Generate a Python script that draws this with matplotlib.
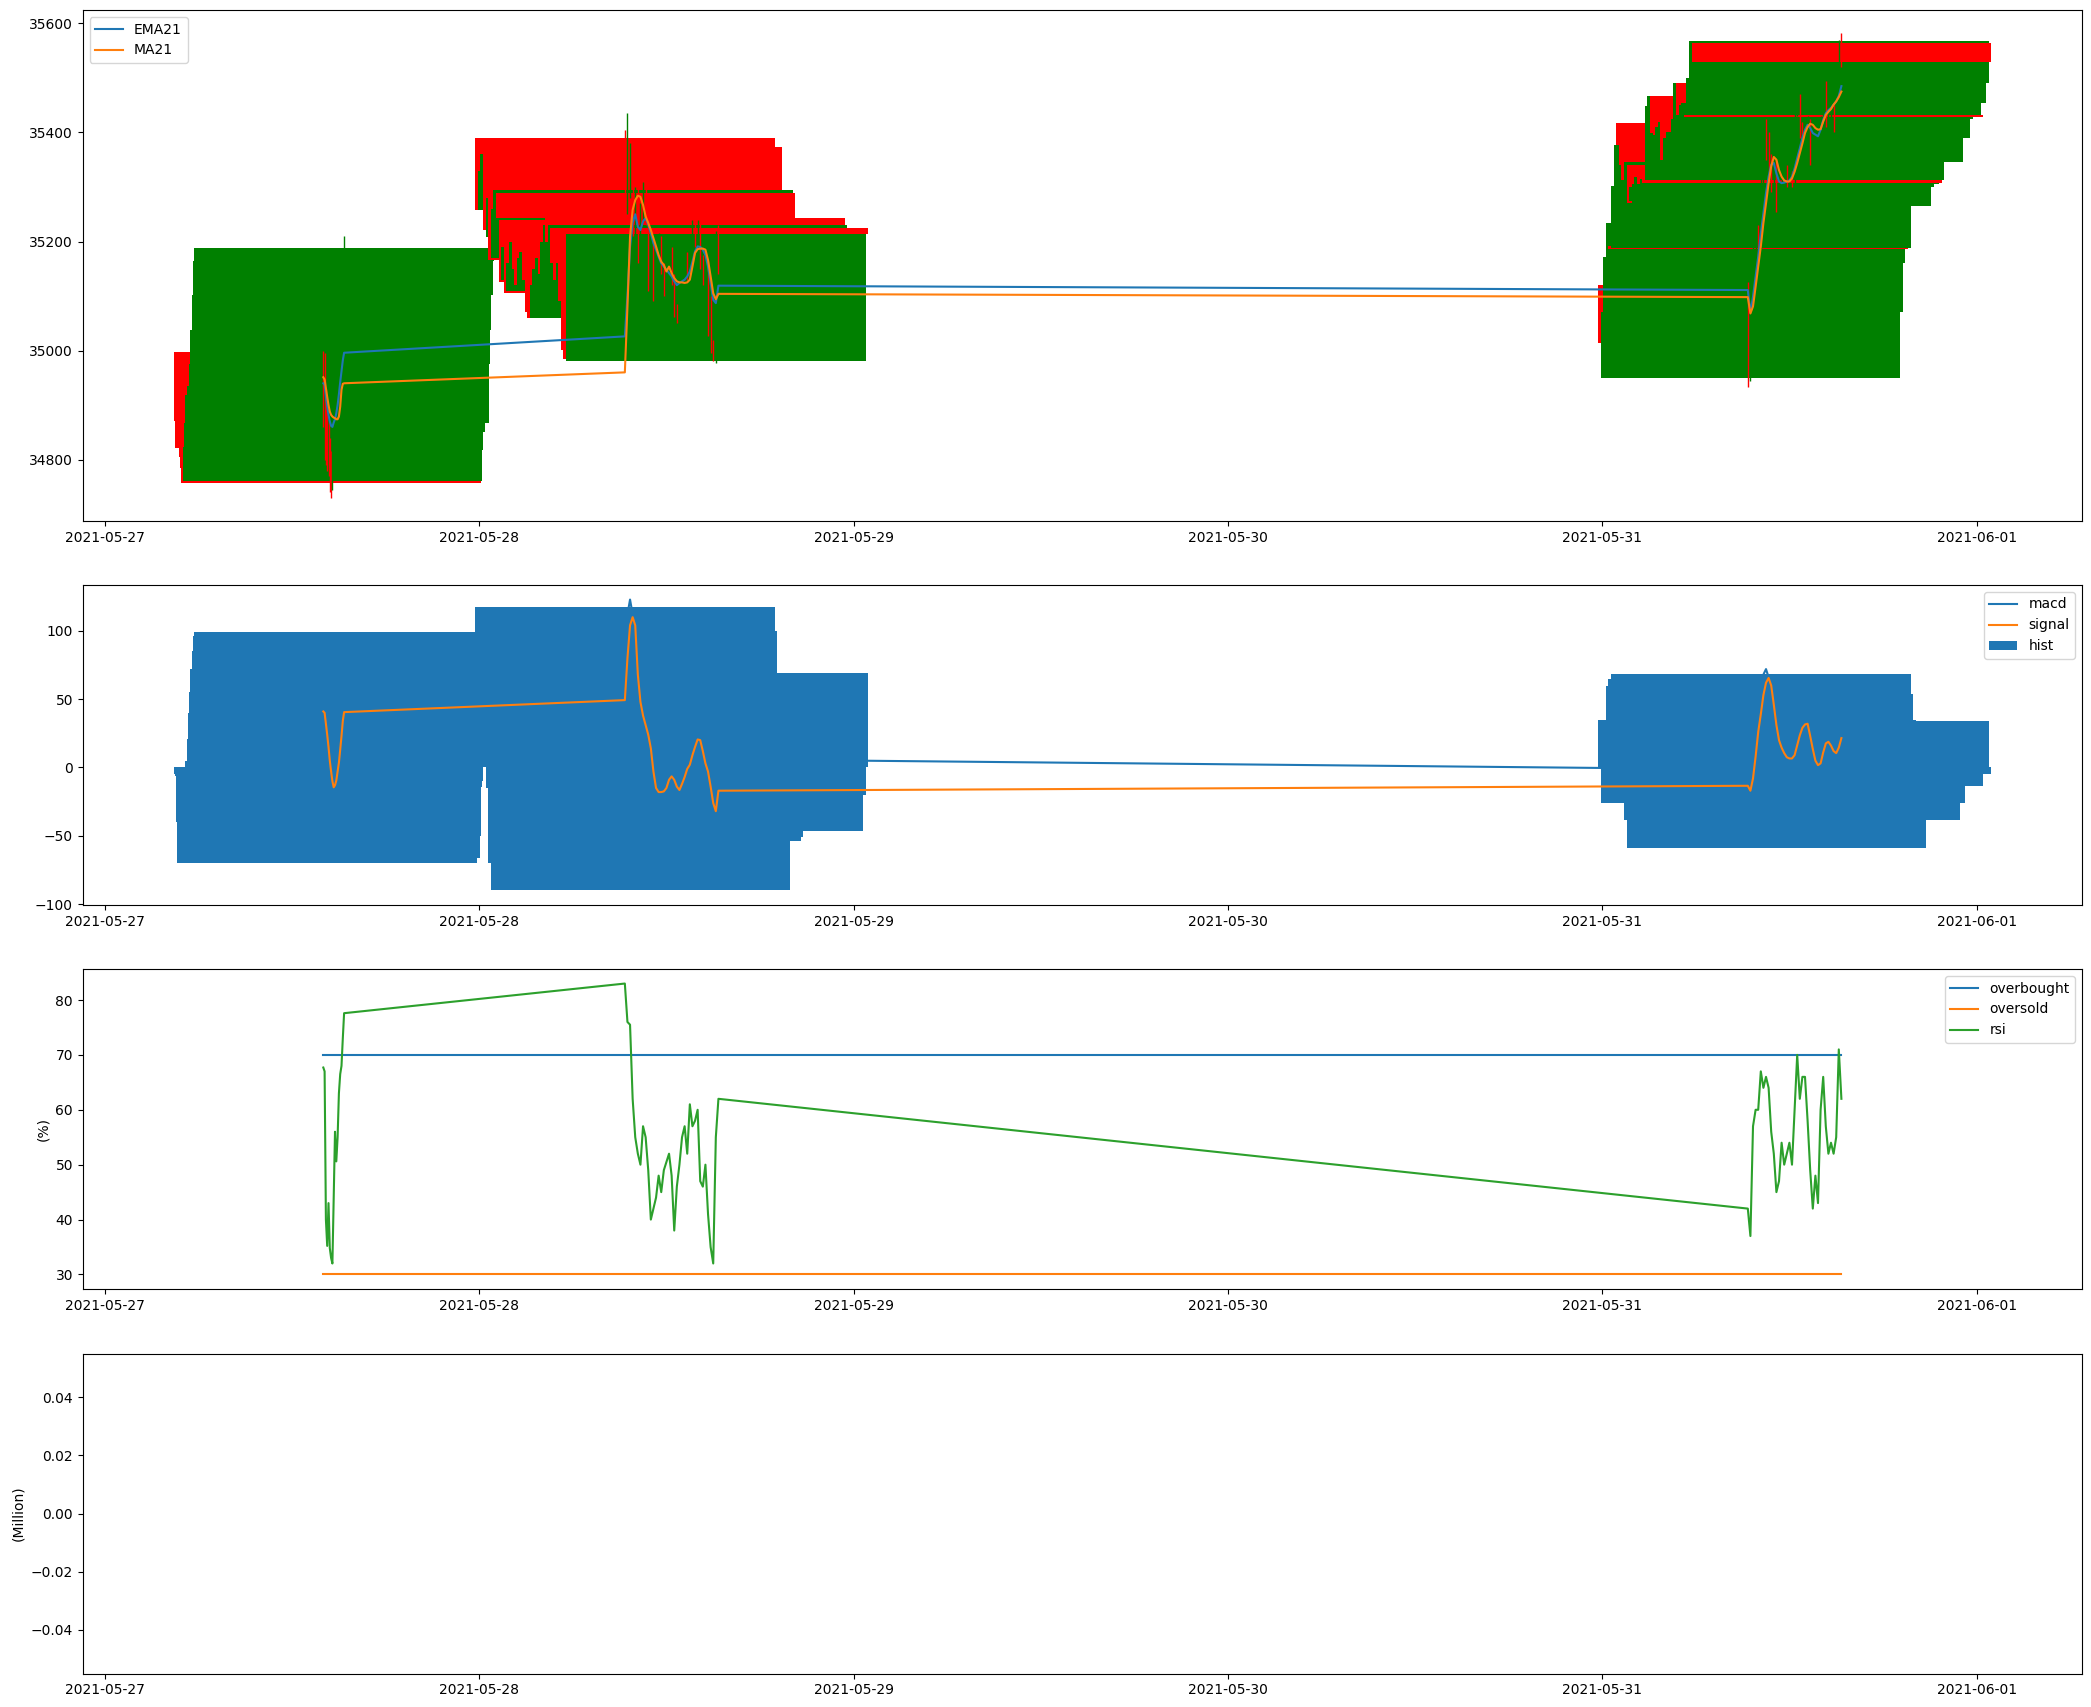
import numpy as np
import pandas as pd
import matplotlib
matplotlib.use('Agg')
import matplotlib.pyplot as plt

# ---------------- time index (three trading sessions) ----------------
seg1_times = pd.date_range('2021-05-27 14:00', '2021-05-27 15:20', freq='5min')
seg2_times = pd.date_range('2021-05-28 09:20', '2021-05-28 15:20', freq='10min')
seg3_times = pd.date_range('2021-05-31 09:20', '2021-05-31 15:20', freq='10min')

# ---------------- session 1 (2021-05-27) ----------------
open1 = [34997, 34987, 34900, 34880, 34850, 34817, 34800, 34760, 34817, 34850, 34890, 34900, 34868, 34975, 35038, 35101, 35164]
high1 = [35000, 34996, 34930, 34900, 34870, 34840, 34815, 34835, 34880, 34930, 34950, 34945, 34990, 35045, 35110, 35170, 35210]
low1 = [34860, 34800, 34790, 34780, 34770, 34740, 34730, 34745, 34800, 34840, 34870, 34880, 34860, 34960, 35020, 35090, 35150]
close1 = [34871, 34822, 34845, 34830, 34805, 34785, 34757, 34823, 34868, 34918, 34935, 34930, 34975, 35038, 35101, 35164, 35189]
ema1 = [34940, 34937, 34915, 34897, 34882, 34870, 34862, 34860, 34868, 34874, 34885, 34900, 34920, 34942, 34962, 34982, 34996]
ma1 = [34951, 34947, 34931, 34915, 34900, 34888, 34882, 34879, 34877, 34876, 34874, 34874, 34879, 34897, 34928, 34939, 34940]
rsi1 = [67.7, 67, 40, 35.2, 43, 34.8, 33, 32, 44, 56, 50.6, 55, 63, 66.5, 68, 73, 77.6]
signal1 = [41, 40, 32, 24, 15, 5, -3, -10, -14.5, -13, -9.5, -3, 3.5, 13, 23, 34, 40.5]
macd1 = [38, 37, 12, -11, -15, -28, -28, -17, -19, -10, 1, 17, 31, 49, 65, 82, 90]
hist1 = [-5, -6, -40, -70, -60, -66, -50, -14, -10, 5, 21, 40, 55, 72, 85, 96, 98.8]

# ---------------- session 2 (2021-05-28) ----------------
open2 = [35389, 35258, 35300, 35373, 35209, 35290, 35170, 35250, 35289, 35240, 35130, 35190, 35110, 35150, 35200, 35150, 35120, 35160, 35180, 35130,
         35075, 35060, 35115, 35140, 35170, 35140, 35190, 35243, 35200, 35225, 35165, 35130, 35160, 35090, 35010, 34981, 35224]
high2 = [35405, 35436, 35380, 35385, 35300, 35310, 35270, 35310, 35300, 35250, 35200, 35200, 35170, 35215, 35210, 35160, 35180, 35195, 35190, 35140,
         35085, 35130, 35160, 35180, 35180, 35210, 35240, 35270, 35240, 35235, 35175, 35170, 35165, 35100, 35020, 35220, 35230]
low2 = [35250, 35250, 35280, 35210, 35200, 35160, 35150, 35240, 35230, 35110, 35120, 35090, 35100, 35140, 35140, 35100, 35110, 35150, 35120, 35062,
        35050, 35055, 35100, 35130, 35130, 35135, 35180, 35190, 35190, 35150, 35120, 35120, 35026, 34995, 34980, 34978, 35140]
close2 = [35258, 35330, 35360, 35221, 35280, 35167, 35260, 35295, 35243, 35126, 35190, 35105, 35160, 35200, 35150, 35120, 35170, 35180, 35130, 35071,
          35059, 35120, 35150, 35170, 35140, 35200, 35230, 35200, 35230, 35160, 35130, 35160, 35090, 35001, 34985, 35214, 35214]
ema2 = [35026, 35100, 35190, 35235, 35250, 35227, 35221, 35237, 35243, 35231, 35215, 35197, 35185, 35172, 35160, 35154, 35148, 35142, 35136, 35127,
        35120, 35124, 35127, 35130, 35136, 35145, 35163, 35182, 35191, 35190, 35185, 35175, 35154, 35124, 35093, 35087, 35119]
ma2 = [34960, 35080, 35209, 35258, 35276, 35284, 35282, 35267, 35246, 35234, 35221, 35206, 35191, 35175, 35163, 35157, 35145, 35154, 35142, 35133,
       35127, 35125, 35125, 35124, 35125, 35130, 35154, 35179, 35186, 35187, 35187, 35185, 35166, 35136, 35105, 35094, 35104]
rsi2 = [83, 76, 75.5, 62, 55, 52, 50, 57, 55, 49, 40, 42, 44, 48, 45, 49, 50.5, 52, 48, 38,
        46, 50, 55, 57, 52, 61, 57, 58, 60, 47, 46, 50, 41, 35, 32, 55, 62]
signal2 = [49.3, 80, 104, 110, 104, 68, 48, 38, 31, 24, 14, -3, -15, -18, -18, -17.5, -15, -9, -6.5, -9,
           -14, -16.5, -12, -7, -1, 2, 9, 15, 20.5, 20, 12, 3, -3, -14, -26, -32, -17]
macd2 = [95, 112, 122.9, 112, 80, 40, 5, 12, 10, 8, -12, -28, -30, -23, -13, -27, -12, 1, -12, -29,
         -25, -11, 3, 16, 20, 29, 40, 42, 40, 15, -6, -20, -18, -37, -49, -42, 6]
hist2 = [117.5, 100, 68, 40, -15, -70, -90, -54, -40, -30, -54, -51, -30, -10, 10, -20, 5, 20, -10, -35,
         -20, 10, 30, 45, 40, 50, 60, 55, 40, -10, -40, -46.6, -30, -46.6, -46.6, -20, 69]

# ---------------- session 3 (2021-05-31) ----------------
open3 = [35120, 34950, 35070, 35160, 35192, 35189, 35290, 35417, 35390, 35350, 35313, 35340, 35275, 35265, 35300, 35322, 35306, 35318, 35313, 35440,
         35466, 35410, 35395, 35405, 35420, 35346, 35390, 35392, 35390, 35425, 35490, 35432, 35432, 35432, 35454, 35490, 35564]
high3 = [35125, 35110, 35200, 35250, 35230, 35320, 35400, 35425, 35400, 35360, 35360, 35350, 35320, 35320, 35330, 35340, 35325, 35330, 35460, 35475,
         35470, 35420, 35425, 35430, 35425, 35395, 35410, 35400, 35430, 35495, 35495, 35460, 35460, 35450, 35505, 35570, 35582]
low3 = [34934, 34945, 35060, 35150, 35170, 35180, 35280, 35350, 35320, 35290, 35300, 35255, 35265, 35260, 35290, 35300, 35300, 35300, 35305, 35430,
        35390, 35385, 35390, 35400, 35340, 35340, 35380, 35370, 35385, 35420, 35410, 35425, 35420, 35400, 35445, 35485, 35520]
close3 = [35013, 35070, 35172, 35234, 35187, 35301, 35377, 35377, 35340, 35313, 35345, 35270, 35300, 35305, 35318, 35306, 35315, 35308, 35448, 35466,
          35399, 35395, 35410, 35420, 35350, 35390, 35400, 35398, 35425, 35490, 35432, 35450, 35454, 35428, 35500, 35567, 35530]
ema3 = [35111, 35070, 35099, 35136, 35172, 35215, 35252, 35289, 35319, 35341, 35344, 35325, 35310, 35307, 35308, 35310, 35312, 35319, 35334, 35353,
        35371, 35390, 35405, 35414, 35408, 35399, 35396, 35393, 35405, 35423, 35435, 35441, 35445, 35451, 35457, 35467, 35485]
ma3 = [35098, 35068, 35081, 35117, 35154, 35191, 35234, 35270, 35307, 35338, 35355, 35350, 35331, 35319, 35312, 35310, 35310, 35316, 35328, 35344,
       35362, 35380, 35399, 35410, 35416, 35414, 35408, 35405, 35406, 35420, 35432, 35438, 35443, 35451, 35457, 35465, 35475]
rsi3 = [42, 37, 57, 60, 60, 67, 64, 66, 64, 56, 52, 45, 47, 54, 50, 52, 54, 50, 60, 70,
        62, 66, 66, 58, 49, 42, 48, 43, 60, 66, 57, 52, 54, 52, 55, 71, 62]
signal3 = [-13.4, -17, -8, 8, 26, 39, 53, 62, 65.5, 60, 46, 31, 20, 14.5, 10.5, 7.5, 6.6, 6.6, 9, 16.3,
           23.5, 29, 31.5, 32, 23, 13.5, 5, 1.7, 3, 11, 17.6, 18.8, 16, 12, 10.5, 14.5, 21.5]
macd3 = [-1.4, -20, 2, 25, 45, 58, 68, 72, 66, 50, 27, 8, 2, 4, 5, 7, 9, 14, 22, 31,
         35, 36, 31, 22, 4, 0, -8, -5, 10, 26, 27, 18, 11, 5, 15, 31, 19]
hist3 = [35, -26, 30, 59.5, 65, 68.3, 54, 34.6, 10, -20, -38.5, -58.8, -38.5, -20, -10, 0, 5, 15, 25, 30,
         25, 15, 0, -20, -38.5, -25, -25.9, -13.4, 15, 30, 20, 0, -10, -13.4, 10, 34, -5]

OVERBOUGHT = 70
OVERSOLD = 30

# ---------------- assemble ----------------
times = seg1_times.append(seg2_times).append(seg3_times)
o = np.array(open1 + open2 + open3, dtype=float)
h = np.array(high1 + high2 + high3, dtype=float)
l = np.array(low1 + low2 + low3, dtype=float)
c = np.array(close1 + close2 + close3, dtype=float)
ema = np.array(ema1 + ema2 + ema3, dtype=float)
ma = np.array(ma1 + ma2 + ma3, dtype=float)
rsi = np.array(rsi1 + rsi2 + rsi3, dtype=float)
signal = np.array(signal1 + signal2 + signal3, dtype=float)
macd = np.array(macd1 + macd2 + macd3, dtype=float)
hist = np.array(hist1 + hist2 + hist3, dtype=float)
n = len(times)

W, H = 2091, 1707
fig = plt.figure(figsize=(W / 100, H / 100), dpi=100)
left = 82.7 / W
width = (2082 - 82.7) / W

def box(top_px, bottom_px):
    return [left, 1 - bottom_px / H, width, (bottom_px - top_px) / H]

ax1 = fig.add_axes(box(10, 521))
ax2 = fig.add_axes(box(585, 905), sharex=ax1)
ax3 = fig.add_axes(box(969, 1289), sharex=ax1)
ax4 = fig.add_axes(box(1353.5, 1673.5), sharex=ax1)

# candles
colors = np.where(c >= o, 'green', 'red')
ax1.bar(times, c - o, bottom=o, width=0.8, color=colors)
ax1.vlines(times, l, h, colors=colors, linewidth=1)
ax1.plot(times, ema, label='EMA21')
ax1.plot(times, ma, label='MA21')
ax1.legend(loc='upper left')

# MACD
ax2.plot(times, macd, label='macd')
ax2.plot(times, signal, label='signal')
ax2.bar(times, hist, width=0.8, label='hist')
ax2.legend(loc='upper right')

# RSI
ax3.plot(times, np.full(n, OVERBOUGHT), label='overbought')
ax3.plot(times, np.full(n, OVERSOLD), label='oversold')
ax3.plot(times, rsi, label='rsi')
ax3.set_ylabel('(%)')
ax3.legend(loc='upper right')

# Volume (no data)
ax4.set_ylim(-0.055, 0.055)
ax4.set_ylabel('(Million)')

for ax in (ax1, ax2, ax3, ax4):
    ax.tick_params(labelbottom=True)

fig.savefig('out.png', dpi=100)
